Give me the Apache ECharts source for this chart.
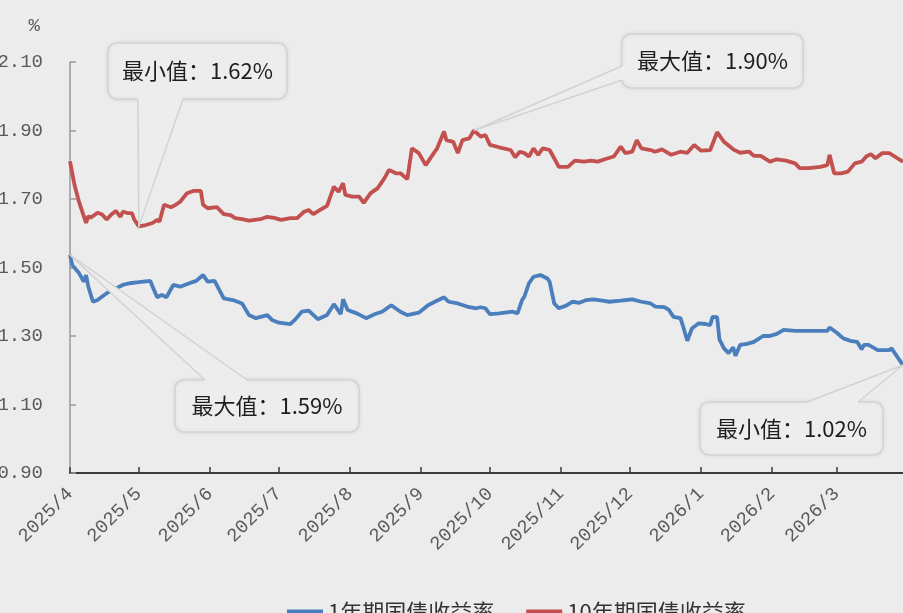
<!DOCTYPE html>
<html><head><meta charset="utf-8">
<script src="https://cdn.jsdelivr.net/npm/echarts@6/dist/echarts.min.js"></script>
<style>html,body{margin:0;padding:0;background:#ececec}#c{width:903px;height:613px}</style>
</head><body><div id="c"></div>
<script>
// ---- data ----
const seriesNames = ['1年期国债收益率', '10年期国债收益率'];
const xTickLabelFormat = '{yyyy}/{M}';
const yTicks = [0.90, 1.10, 1.30, 1.50, 1.70, 1.90, 2.10];

const redDates = [
 '2025-04-01','2025-04-03','2025-04-05','2025-04-08','2025-04-09','2025-04-10','2025-04-13','2025-04-15','2025-04-17','2025-04-19','2025-04-21','2025-04-23','2025-04-24','2025-04-26','2025-04-28','2025-04-29',
 '2025-05-01','2025-05-04','2025-05-07','2025-05-09','2025-05-10','2025-05-12','2025-05-15','2025-05-17','2025-05-19','2025-05-22','2025-05-25','2025-05-28','2025-05-29','2025-05-31',
 '2025-06-04','2025-06-07','2025-06-10','2025-06-12','2025-06-15','2025-06-18','2025-06-23','2025-06-26','2025-06-29',
 '2025-07-02','2025-07-06','2025-07-09','2025-07-12','2025-07-14','2025-07-16','2025-07-19','2025-07-22','2025-07-25','2025-07-27','2025-07-29','2025-07-30',
 '2025-08-02','2025-08-05','2025-08-07','2025-08-10','2025-08-13','2025-08-16','2025-08-18','2025-08-21','2025-08-23','2025-08-26','2025-08-28','2025-08-31',
 '2025-09-03','2025-09-06','2025-09-08','2025-09-11','2025-09-12','2025-09-15','2025-09-17','2025-09-19','2025-09-22','2025-09-24','2025-09-27','2025-09-29',
 '2025-10-01','2025-10-05','2025-10-10','2025-10-12','2025-10-14','2025-10-16','2025-10-18','2025-10-20','2025-10-22','2025-10-24','2025-10-27','2025-10-29','2025-10-31',
 '2025-11-04','2025-11-07','2025-11-11','2025-11-14','2025-11-17','2025-11-20','2025-11-24','2025-11-27','2025-11-29',
 '2025-12-02','2025-12-04','2025-12-06','2025-12-10','2025-12-12','2025-12-15','2025-12-19','2025-12-23','2025-12-26','2025-12-29',
 '2026-01-01','2026-01-05','2026-01-08','2026-01-11','2026-01-15','2026-01-18','2026-01-22','2026-01-24','2026-01-27','2026-01-31',
 '2026-02-03','2026-02-07','2026-02-11','2026-02-13','2026-02-17','2026-02-22','2026-02-25','2026-02-26','2026-02-28',
 '2026-03-03','2026-03-06','2026-03-09','2026-03-12','2026-03-14','2026-03-16','2026-03-18','2026-03-21','2026-03-24','2026-03-30'
];
const redVals = [
 1.81,1.74,1.69,1.63,1.65,1.645,1.66,1.655,1.64,1.655,1.665,1.648,1.663,1.659,1.659,1.64,
 1.62,1.624,1.63,1.639,1.634,1.683,1.676,1.683,1.692,1.717,1.724,1.724,1.683,1.673,
 1.676,1.656,1.653,1.644,1.641,1.637,1.641,1.648,1.645,
 1.639,1.644,1.644,1.663,1.668,1.656,1.668,1.68,1.736,1.721,1.746,1.712,
 1.707,1.707,1.689,1.717,1.731,1.76,1.785,1.775,1.775,1.758,1.848,1.834,
 1.799,1.829,1.848,1.897,1.872,1.867,1.834,1.872,1.877,1.90,1.882,1.887,
 1.858,1.851,1.843,1.822,1.838,1.834,1.824,1.848,1.829,1.848,1.843,1.819,1.794,
 1.794,1.812,1.809,1.812,1.809,1.816,1.824,1.853,1.834,
 1.838,1.872,1.848,1.843,1.838,1.845,1.829,1.838,1.835,1.858,
 1.841,1.843,1.895,1.867,1.845,1.835,1.838,1.826,1.826,1.809,
 1.816,1.812,1.804,1.79,1.79,1.794,1.799,1.829,1.775,
 1.775,1.78,1.804,1.809,1.824,1.831,1.819,1.834,1.834,1.809
];

const blueDates = [
 '2025-04-01','2025-04-02','2025-04-05','2025-04-07','2025-04-08','2025-04-09','2025-04-11','2025-04-13','2025-04-17','2025-04-21','2025-04-24','2025-04-27',
 '2025-05-01','2025-05-06','2025-05-07','2025-05-09','2025-05-11','2025-05-13','2025-05-16','2025-05-19','2025-05-23','2025-05-26','2025-05-29','2025-05-31',
 '2025-06-03','2025-06-07','2025-06-11','2025-06-15','2025-06-18','2025-06-21','2025-06-26','2025-06-28',
 '2025-07-01','2025-07-06','2025-07-08','2025-07-11','2025-07-14','2025-07-18','2025-07-22','2025-07-25','2025-07-28','2025-07-29','2025-07-31',
 '2025-08-04','2025-08-08','2025-08-12','2025-08-15','2025-08-19','2025-08-23','2025-08-26','2025-08-31',
 '2025-09-04','2025-09-07','2025-09-11','2025-09-13','2025-09-17','2025-09-21','2025-09-25','2025-09-27','2025-09-29',
 '2025-10-01','2025-10-05','2025-10-11','2025-10-13','2025-10-15','2025-10-16','2025-10-18','2025-10-20','2025-10-23','2025-10-26','2025-10-27','2025-10-29','2025-10-31',
 '2025-11-03','2025-11-06','2025-11-09','2025-11-12','2025-11-15','2025-11-19','2025-11-22','2025-11-27','2025-11-29',
 '2025-12-02','2025-12-06','2025-12-10','2025-12-12','2025-12-16','2025-12-18','2025-12-20','2025-12-23','2025-12-24','2025-12-26','2025-12-28','2025-12-31',
 '2026-01-03','2026-01-05','2026-01-06','2026-01-08','2026-01-09','2026-01-11','2026-01-13','2026-01-15','2026-01-16','2026-01-18','2026-01-21','2026-01-24','2026-01-28','2026-01-31',
 '2026-02-03','2026-02-06','2026-02-11','2026-02-16','2026-02-22','2026-02-25','2026-02-26',
 '2026-03-01','2026-03-04','2026-03-07','2026-03-10','2026-03-12','2026-03-13','2026-03-15','2026-03-19','2026-03-24','2026-03-25','2026-03-30'
];
const blueVals = [
 1.537,1.507,1.483,1.459,1.478,1.444,1.40,1.405,1.425,1.439,1.449,1.454,
 1.457,1.461,1.444,1.413,1.42,1.413,1.449,1.444,1.454,1.461,1.478,1.459,
 1.461,1.41,1.405,1.395,1.361,1.352,1.361,1.347,
 1.339,1.335,1.347,1.371,1.374,1.349,1.361,1.393,1.364,1.407,1.376,
 1.366,1.352,1.364,1.371,1.39,1.371,1.361,1.368,
 1.39,1.40,1.413,1.40,1.395,1.386,1.381,1.384,1.381,
 1.364,1.366,1.371,1.366,1.405,1.415,1.454,1.473,1.478,1.468,1.459,1.395,1.381,
 1.388,1.40,1.397,1.405,1.407,1.403,1.40,1.403,1.405,
 1.407,1.40,1.395,1.386,1.384,1.376,1.356,1.352,1.332,1.286,1.322,1.337,
 1.335,1.332,1.356,1.355,1.29,1.264,1.25,1.267,1.242,1.274,1.277,1.283,1.30,1.30,
 1.306,1.318,1.315,1.315,1.315,1.315,1.325,
 1.31,1.293,1.286,1.283,1.261,1.274,1.274,1.259,1.259,1.264,1.215
];

// annotation texts (as printed on the chart)
const calloutTexts = ['最小值：1.62%', '最大值：1.90%', '最大值：1.59%', '最小值：1.02%'];

// ---- chart ----
const DAY = 86400000;
const BLUE = '#4a7ebc', RED = '#c1504e';
const AXIS_FONT = 'Liberation Mono';
const CJK_FONT = '"Noto Sans CJK SC"';

const chart = echarts.init(document.getElementById('c'), null, {renderer: 'canvas'});

function pairs(ds, vs) { return ds.map((d, i) => [d, vs[i]]); }

const option = {
  backgroundColor: '#ececec',
  animation: false,
  grid: {left: 70, right: 0, top: 62, bottom: 140, containLabel: false, outerBoundsMode: 'none'},
  legend: {
    left: 282, top: 596, itemWidth: 36, itemHeight: 5, itemGap: 32, icon: 'rect',
    textStyle: {fontFamily: 'Noto Sans CJK SC', fontSize: 22, color: '#333'},
    data: seriesNames
  },
  xAxis: {
    type: 'time', min: '2025-04-01', max: '2026-03-30',
    minInterval: 28 * DAY, maxInterval: 31 * DAY,
    axisLine: {lineStyle: {color: '#3a3a3a', width: 2}},
    axisTick: {show: true, inside: true, length: 6, lineStyle: {color: '#3a3a3a', width: 1.5}},
    axisLabel: {
      rotate: 45, margin: 18, fontFamily: AXIS_FONT, fontSize: 19, color: '#5a5a5a',
      showMaxLabel: false, hideOverlap: false,
      formatter: v => echarts.time.format(v, xTickLabelFormat, false)
    },
    splitLine: {show: false}
  },
  yAxis: {
    type: 'value', min: yTicks[0], max: yTicks[yTicks.length - 1], interval: yTicks[1] - yTicks[0],
    name: '%', nameGap: 27,
    nameTextStyle: {align: 'right', padding: [0, 30, 0, 0], fontFamily: AXIS_FONT, fontSize: 19, color: '#5a5a5a'},
    axisLine: {show: true, lineStyle: {color: '#9a9a9a', width: 1.5}},
    axisTick: {show: true, inside: true, length: 6, lineStyle: {color: '#9a9a9a', width: 1.5}},
    axisLabel: {margin: 27, fontFamily: AXIS_FONT, fontSize: 19, color: '#5a5a5a', formatter: v => v.toFixed(2)},
    splitLine: {show: false}
  },
  series: [
    {name: seriesNames[0], type: 'line', showSymbol: false, data: pairs(blueDates, blueVals),
     itemStyle: {color: BLUE}, lineStyle: {color: BLUE, width: 3.8}, z: 3},
    {name: seriesNames[1], type: 'line', showSymbol: false, data: pairs(redDates, redVals),
     itemStyle: {color: RED}, lineStyle: {color: RED, width: 3.8}, z: 3}
  ]
};
chart.setOption(option);

// ---- callouts (boxes placed as in the reference, tips at the data extremes) ----
function extremeIndex(vals, useMax) {
  let k = 0;
  vals.forEach((v, i) => { if (useMax ? v > vals[k] : v < vals[k]) k = i; });
  return k;
}
function toPx(d, v) {
  return chart.convertToPixel({xAxisIndex: 0, yAxisIndex: 0}, [+echarts.time.parse(d), v]);
}
const rMin = extremeIndex(redVals, false), rMax = extremeIndex(redVals, true);
const bMax = extremeIndex(blueVals, true), bMin = extremeIndex(blueVals, false);

const callouts = [
  {text: calloutTexts[0], tip: toPx(redDates[rMin], redVals[rMin]), box: [108, 43, 179, 56], base: [[138, 99], [183, 99]], inward: [0, -3]},
  {text: calloutTexts[1], tip: toPx(redDates[rMax], redVals[rMax]), box: [622, 34, 181, 54], base: [[622, 66], [622, 80]], inward: [3, 0]},
  {text: calloutTexts[2], tip: toPx(blueDates[bMax], blueVals[bMax]), box: [175, 380, 184, 52], base: [[205, 380], [247, 380]], inward: [0, 3]},
  {text: calloutTexts[3], tip: toPx(blueDates[bMin], blueVals[bMin]), box: [700, 402, 183, 53], base: [[807, 402], [858, 402]], inward: [0, 3]}
];

const FILL = '#ededed', EDGE = '#d3d3d3';
const graphics = [];
callouts.forEach(c => {
  const [x, y, w, h] = c.box;
  const a = c.base[0], b = c.base[1];
  graphics.push({type: 'rect', z: 100, shape: {x, y, width: w, height: h, r: 9},
    style: {fill: FILL, stroke: EDGE, lineWidth: 1.5, shadowBlur: 4, shadowColor: 'rgba(0,0,0,0.08)'}});
  graphics.push({type: 'polygon', z: 101,
    shape: {points: [[a[0] + c.inward[0], a[1] + c.inward[1]], a, c.tip, b, [b[0] + c.inward[0], b[1] + c.inward[1]]]},
    style: {fill: FILL}});
  graphics.push({type: 'polyline', z: 102, shape: {points: [a, c.tip, b]},
    style: {stroke: EDGE, lineWidth: 1.5, fill: null}});
  graphics.push({type: 'text', z: 103, x: x + w / 2, y: y + h / 2,
    style: {text: c.text, align: 'center', verticalAlign: 'middle', textAlign: 'center', textVerticalAlign: 'middle',
      font: '22px ' + CJK_FONT, fill: '#1e1e1e'}});
});
chart.setOption({graphic: graphics});
</script>
</body></html>
